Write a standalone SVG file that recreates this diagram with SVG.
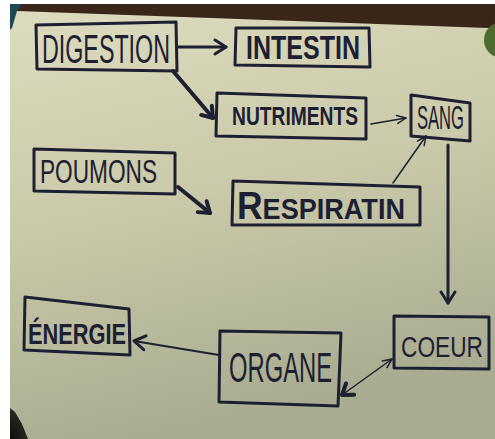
<svg xmlns="http://www.w3.org/2000/svg" width="495" height="439" viewBox="0 0 495 439">
<defs>
<linearGradient id="paper" x1="0" y1="0" x2="0.25" y2="1">
<stop offset="0" stop-color="#dddcbf"/>
<stop offset="0.5" stop-color="#cacaaa"/>
<stop offset="1" stop-color="#a9ac90"/>
</linearGradient>
<radialGradient id="corner" cx="0" cy="1" r="1">
<stop offset="0" stop-color="#0c0d08"/>
<stop offset="1" stop-color="#2a2c22"/>
</radialGradient>
<marker id="ah" markerUnits="userSpaceOnUse" markerWidth="16" markerHeight="16" refX="13" refY="8" orient="auto-start-reverse" overflow="visible">
<path d="M2,1 L13,8 L2,15" fill="none" stroke="#1d2033" stroke-width="3" stroke-linecap="round" stroke-linejoin="round"/>
</marker>
<marker id="ahs" markerUnits="userSpaceOnUse" markerWidth="12" markerHeight="12" refX="10" refY="5" orient="auto-start-reverse" overflow="visible">
<path d="M1,1 L10,5 L1,9" fill="none" stroke="#1d2033" stroke-width="1.5" stroke-linecap="round" stroke-linejoin="round"/>
</marker>
<marker id="ahb" markerUnits="userSpaceOnUse" markerWidth="16" markerHeight="16" refX="12" refY="8" orient="auto" overflow="visible">
<path d="M2,1 L12,8 L2,15" fill="none" stroke="#1d2033" stroke-width="4" stroke-linecap="round" stroke-linejoin="round"/>
</marker>
</defs>
<style>
.box{fill:none;stroke:#1d2033;stroke-width:3;stroke-linejoin:round}
.lbl{font-family:"Liberation Sans","DejaVu Sans",sans-serif;fill:#1d2033}
.con{fill:none;stroke:#1d2033;stroke-linecap:round}
</style>
<rect x="0" y="0" width="495" height="439" fill="#ffffff"/>
<rect x="10" y="4" width="485" height="435" fill="url(#paper)"/>
<polygon points="10,4 495,4 495,29 488,28 17,11 10,12" fill="#3a2519"/>
<polygon points="10,4 22,4 17,11 12,28 10,30" fill="#1f4752"/>
<circle cx="502" cy="40" r="18" fill="#4f6b2f"/>
<polygon points="10,408 15,412 22,424 28,439 10,439" fill="url(#corner)"/>

<g id="connectors">
<line class="con" x1="178" y1="47" x2="226" y2="47" stroke-width="3" marker-end="url(#ah)"/>
<line class="con" x1="173" y1="71" x2="213" y2="118" stroke-width="4" marker-end="url(#ahb)"/>
<line class="con" x1="371" y1="124" x2="406" y2="118" stroke-width="1.5" marker-end="url(#ahs)"/>
<line class="con" x1="178" y1="187" x2="210" y2="213" stroke-width="4" marker-end="url(#ahb)"/>
<line class="con" x1="393" y1="183" x2="426" y2="136" stroke-width="1.5" marker-end="url(#ahs)"/>
<line class="con" x1="448" y1="145" x2="448" y2="303" stroke-width="3" marker-end="url(#ah)"/>
<line class="con" x1="219" y1="355" x2="134" y2="341" stroke-width="2" marker-end="url(#ah)"/>
<line class="con" x1="392" y1="359" x2="342" y2="395" stroke-width="1.5" marker-start="url(#ahs)" marker-end="url(#ahb)"/>
</g>

<g id="digestion">
<path class="box" d="M36,25 L176,22 L177,71 L37,69 Z"/>
<text class="lbl" x="42" y="63" font-size="40" textLength="128" lengthAdjust="spacingAndGlyphs">DIGESTION</text>
</g>
<g id="intestin">
<path class="box" d="M236,28 L369,28 L370,67 L235,65 Z"/>
<text class="lbl" x="246" y="59" font-size="33" font-weight="bold" textLength="114" lengthAdjust="spacingAndGlyphs">INTESTIN</text>
</g>
<g id="nutriments">
<path class="box" d="M217,93 L366,98 L366,139 L216,136 Z"/>
<text class="lbl" x="232" y="125" font-size="25" font-weight="bold" textLength="126" lengthAdjust="spacingAndGlyphs">NUTRIMENTS</text>
</g>
<g id="sang">
<path class="box" d="M411,95 L470,103 L470,141 L411,136 Z"/>
<text class="lbl" x="417" y="129" font-size="33" textLength="47" lengthAdjust="spacingAndGlyphs">SANG</text>
</g>
<g id="poumons">
<path class="box" d="M34,149 L175,153 L175,194 L34,191 Z"/>
<text class="lbl" x="40" y="183" font-size="34" textLength="117" lengthAdjust="spacingAndGlyphs">POUMONS</text>
</g>
<g id="respiratin">
<path class="box" d="M233,181 L420,187 L420,225 L232,225 Z"/>
<text class="lbl" x="237" y="219" font-size="29" font-weight="bold" textLength="168" lengthAdjust="spacingAndGlyphs"><tspan font-size="38">R</tspan>ESPIRATIN</text>
</g>
<g id="coeur">
<path class="box" d="M394,316 L489,317 L489,369 L394,368 Z" stroke-width="4"/>
<text class="lbl" x="401" y="357" font-size="30" textLength="82" lengthAdjust="spacingAndGlyphs">COEUR</text>
</g>
<g id="organe">
<path class="box" d="M220,331 L341,333 L338,406 L219,402 Z" stroke-width="2.5"/>
<text class="lbl" x="229" y="382" font-size="43" textLength="103" lengthAdjust="spacingAndGlyphs">ORGANE</text>
</g>
<g id="energie">
<path class="box" d="M25,297 L129,309 L130,355 L24,350 Z" stroke-width="2.5"/>
<text class="lbl" x="28" y="344" font-size="29" font-weight="bold" textLength="98" lengthAdjust="spacingAndGlyphs">ÉNERGIE</text>
</g>
</svg>
